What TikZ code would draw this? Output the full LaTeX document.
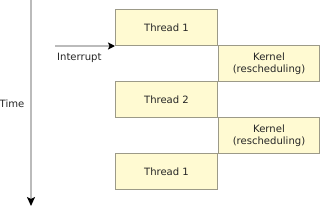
\documentclass[tikz,border=0pt]{standalone}
\usepackage{fontspec}
\setmainfont{DejaVu Sans}
\usetikzlibrary{arrows.meta}
\definecolor{boxfill}{HTML}{FFFAD2}
\definecolor{boxline}{HTML}{9C9A88}
\definecolor{axisgray}{HTML}{BBBBBB}
\begin{document}
\begin{tikzpicture}[x=1bp,y=-1bp,
  every node/.style={font=\fontsize{10.1}{12.5}\selectfont, text=black!85},
  slot/.style={draw=boxline, fill=boxfill, line width=1bp, minimum width=102bp, minimum height=36bp, inner sep=0pt, align=center, anchor=north west},
  axis/.style={draw=axisgray, line width=1.6bp, -{Stealth[black,length=9bp,width=8bp,inset=2bp]}},
  iarrow/.style={draw=axisgray, line width=1.4bp, -{Stealth[black,length=7bp,width=7bp,inset=1.5bp]}}]
\useasboundingbox (0,0) rectangle (320,211);
\node[slot] (t1) at (115,9) {Thread 1};
\node[slot, minimum width=101bp] (k1) at (218,45) {Kernel\\(rescheduling)};
\node[slot] (t2) at (115,81) {Thread 2};
\node[slot, minimum width=101bp] (k2) at (218,117) {Kernel\\(rescheduling)};
\node[slot] (t3) at (115,153) {Thread 1};
\coordinate (ttop) at (31,-1);
\coordinate (tbot) at (31,206);
\draw[axis] (ttop) -- (tbot);
\node[anchor=west, inner sep=0pt] (time) at (-0.5,104) {Time};
\coordinate (istart) at (55,46);
\coordinate (iend) at (115,46);
\draw[iarrow] (istart) -- (iend);
\node[anchor=west, inner sep=0pt] (intr) at (57,58) {Interrupt};
\end{tikzpicture}
\end{document}
